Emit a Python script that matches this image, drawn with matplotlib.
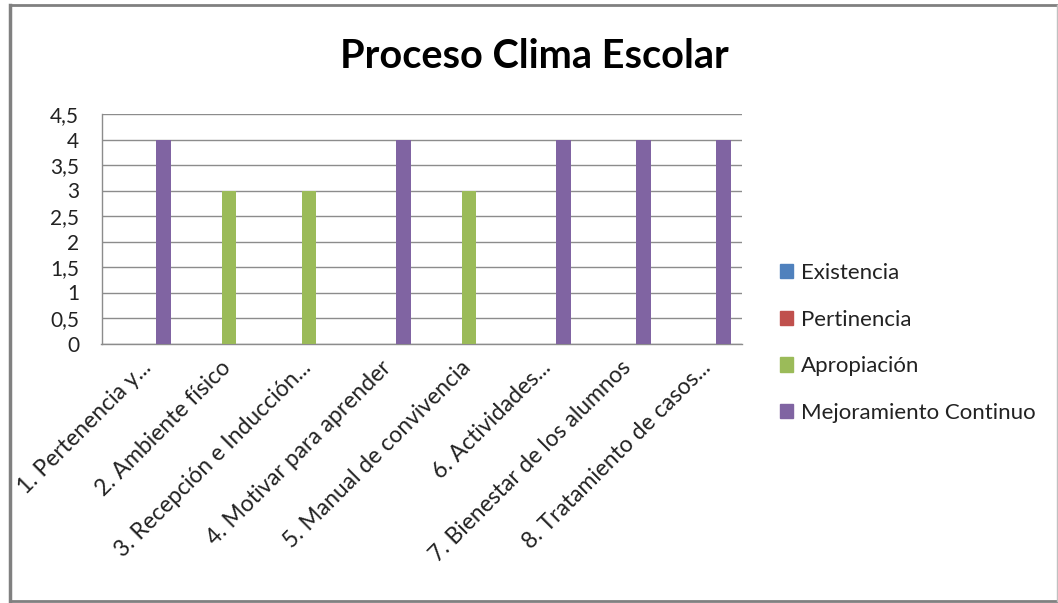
import numpy as np
import matplotlib.pyplot as plt
import matplotlib.transforms as mtransforms
from matplotlib.lines import Line2D

plt.rcParams['font.family'] = ['Lato', 'DejaVu Sans']

# Chart data
categories = ['1. Pertenencia y...', '2. Ambiente físico', '3. Recepción e Inducción...',
              '4. Motivar para aprender', '5. Manual de convivencia', '6. Actividades...',
              '7. Bienestar de los alumnos', '8. Tratamiento de casos...']
series_names = ['Existencia', 'Pertinencia', 'Apropiación', 'Mejoramiento Continuo']
existencia = [0, 0, 0, 0, 0, 0, 0, 0]
pertinencia = [0, 0, 0, 0, 0, 0, 0, 0]
apropiacion = [0, 3, 3, 0, 3, 0, 0, 0]
mejoramiento = [4, 0, 0, 4, 0, 4, 4, 4]
colors = ['#4F81BD', '#C0504D', '#9BBB59', '#8064A2']
y_ticks = [0, 0.5, 1, 1.5, 2, 2.5, 3, 3.5, 4, 4.5]

W, H = 1058, 603
fig = plt.figure(figsize=(W / 100, H / 100), dpi=100)
ax = fig.add_axes([101.5 / W, 1 - 343.5 / H, 640.2 / W, 229.5 / H])

x = np.arange(len(categories))
bw = 1 / 5.5
for j, vals in enumerate([existencia, pertinencia, apropiacion, mejoramiento]):
    ax.bar(x + (j - 1.5) * bw, vals, width=bw, color=colors[j],
           label=series_names[j], zorder=3)

ax.set_xlim(-0.5, len(categories) - 0.5)
ax.set_ylim(0, 4.5)
ax.set_yticks(y_ticks)
ax.set_yticklabels([f'{v:g}'.replace('.', ',') for v in y_ticks], fontsize=15, color='#222222')
ax.yaxis.grid(True, color='#8c8c8c', lw=1, zorder=0)
ax.tick_params(axis='y', length=0, pad=16)
ax.set_xticks(x)
ax.set_xticklabels(categories, rotation=45, ha='right', va='center',
                   rotation_mode='anchor', fontsize=16.5, color='#222222')
ax.tick_params(axis='x', length=0, pad=15)
# nudge the slanted category labels a little to the right
shift = mtransforms.ScaledTranslation(6 / 100, 0, fig.dpi_scale_trans)
for lbl in ax.get_xticklabels():
    lbl.set_transform(lbl.get_transform() + shift)
for s in ['top', 'right']:
    ax.spines[s].set_visible(False)
for s in ['left', 'bottom']:
    ax.spines[s].set_color('#8c8c8c')
    ax.spines[s].set_linewidth(1)

fig.text(534 / W, 1 - 57 / H, 'Proceso Clima Escolar', ha='center', va='center',
         fontsize=28.5, fontweight='bold', color='black')

handles = [plt.Rectangle((0, 0), 1, 1, color=c) for c in colors]
fig.legend(handles, series_names, loc='center left', bbox_to_anchor=(780 / W, 1 - 343 / H),
           frameon=False, fontsize=16, handlelength=0.6, handleheight=0.6,
           handletextpad=0.35, labelspacing=1.2, borderpad=0, borderaxespad=0,
           labelcolor='#222222')

# outer border of the chart
def px(xp, yp):
    return xp / W, 1 - yp / H
fig.add_artist(Line2D(*zip(px(10, 5), px(1057, 5)), color='#808080', lw=2))
fig.add_artist(Line2D(*zip(px(10, 5), px(10, 601)), color='#808080', lw=2.5))
fig.add_artist(Line2D(*zip(px(10, 601), px(1057, 601)), color='#808080', lw=2))
fig.add_artist(Line2D(*zip(px(1057, 5), px(1057, 601)), color='#c0c0c0', lw=1))

fig.savefig('out.png', dpi=100, facecolor='white')
